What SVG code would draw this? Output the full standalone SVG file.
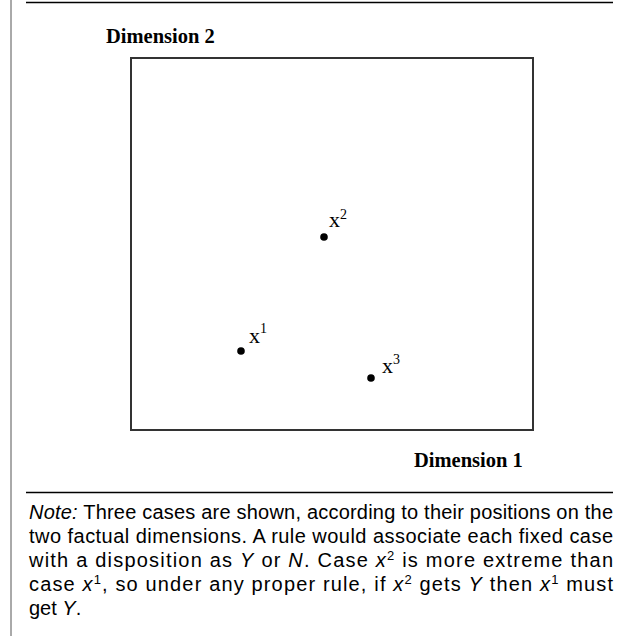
<svg xmlns="http://www.w3.org/2000/svg" width="628" height="636" viewBox="0 0 628 636">
<style>
.rule{stroke:#000;stroke-width:1.6;fill:none}
.side{stroke:#555;stroke-width:1;fill:none}
.box{stroke:#333;stroke-width:2;fill:#fff}
.axis{font-family:"Liberation Serif","Times New Roman",serif;font-weight:bold;font-size:20.5px;fill:#000}
.lbl{font-family:"Liberation Serif","Times New Roman",serif;font-size:22px;fill:#000}
.sup{font-size:14px}
.note{font-family:"Liberation Sans",Arial,sans-serif;font-size:20px;fill:#000}
.it{font-style:italic}
.dot{fill:#000}
</style>
<rect width="628" height="636" fill="#fff"/>
<line class="side" x1="11" y1="0" x2="11" y2="636"/>
<line class="rule" x1="26" y1="2.5" x2="613" y2="2.5"/>
<line class="rule" x1="26" y1="492.5" x2="613" y2="492.5"/>
<g id="plot">
<rect class="box" x="131" y="58" width="402" height="372"/>
</g>
<g id="axis2"><text class="axis" x="106" y="43">Dimension 2</text></g>
<g id="axis1"><text class="axis" x="414" y="467">Dimension 1</text></g>
<g id="case1">
<circle class="dot" cx="241" cy="351" r="3.8"/>
<text class="lbl" x="249" y="343">x</text><text class="lbl sup" x="260" y="333">1</text>
</g>
<g id="case2">
<circle class="dot" cx="324" cy="237" r="3.8"/>
<text class="lbl" x="329" y="227">x</text><text class="lbl sup" x="340" y="219">2</text>
</g>
<g id="case3">
<circle class="dot" cx="371" cy="378" r="3.8"/>
<text class="lbl" x="382" y="373">x</text><text class="lbl sup" x="393" y="364">3</text>
</g>
<g id="connectors"></g>
<g id="note">
<text class="note" x="29" y="519" textLength="584" lengthAdjust="spacing"><tspan class="it">Note:</tspan> Three cases are shown, according to their positions on the</text>
<text class="note" x="29" y="543" textLength="584" lengthAdjust="spacing">two factual dimensions. A rule would associate each fixed case</text>
<text class="note" x="29" y="567" textLength="584" lengthAdjust="spacing">with a disposition as <tspan class="it">Y</tspan> or <tspan class="it">N</tspan>. Case <tspan class="it">x</tspan><tspan font-size="13" dy="-7">2</tspan><tspan dy="7"> is more extreme than</tspan></text>
<text class="note" x="29" y="591" textLength="584" lengthAdjust="spacing">case <tspan class="it">x</tspan><tspan font-size="13" dy="-7">1</tspan><tspan dy="7">, so under any proper rule, if </tspan><tspan class="it">x</tspan><tspan font-size="13" dy="-7">2</tspan><tspan dy="7"> gets </tspan><tspan class="it">Y</tspan> then <tspan class="it">x</tspan><tspan font-size="13" dy="-7">1</tspan><tspan dy="7"> must</tspan></text>
<text class="note" x="29" y="615">get <tspan class="it">Y</tspan>.</text>
</g>
</svg>
